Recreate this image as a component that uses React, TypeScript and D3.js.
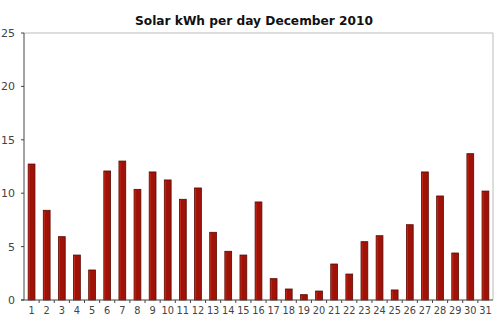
import React from "react";
import * as d3 from "d3";

const days: string[] = Array.from({ length: 31 }, (_, i) => String(i + 1));
const kwh: number[] = [
  12.73, 8.4, 5.93, 4.21, 2.81, 12.08, 13.01, 10.36, 11.99, 11.24, 9.43, 10.49,
  6.34, 4.56, 4.21, 9.18, 2.0, 1.03, 0.5, 0.84, 3.37, 2.43, 5.46, 6.02, 0.94,
  7.05, 11.99, 9.74, 4.4, 13.7, 10.2,
];
const yTicks: number[] = [0, 5, 10, 15, 20, 25];
const title = "Solar kWh per day December 2010";

const W = 500;
const H = 333;
const margin = { left: 24, top: 33, right: 7, bottom: 33 };

export default function App() {
  const x = d3
    .scaleBand<string>()
    .domain(days)
    .range([margin.left, W - margin.right])
    .paddingInner(0);
  const y = d3.scaleLinear().domain([0, 25]).range([H - margin.bottom, margin.top]);
  const bw = 6.8;
  const font = "Verdana, 'DejaVu Sans', sans-serif";
  const x0 = margin.left;
  const x1 = W - margin.right;
  const y0 = y(0);
  const yTop = y(25);
  return (
    <svg
      width={W}
      height={H}
      style={{ position: "absolute", left: 0, top: 0, background: "#fff" }}
      fontFamily={font}
    >
      <text x={254} y={25} textAnchor="middle" fontSize={12.2} fontWeight="bold" fill="#111">
        {title}
      </text>
      <line x1={x0} x2={x1} y1={yTop} y2={yTop} stroke="#bbb" strokeWidth={1} />
      <line x1={x1} x2={x1} y1={yTop} y2={y0} stroke="#bbb" strokeWidth={1} />
      {kwh.map((v, i) => {
        const cx = (x(days[i]) as number) + x.bandwidth() / 2;
        return (
          <g key={i}>
            <rect
              x={cx - bw / 2}
              y={y(v)}
              width={bw}
              height={y0 - y(v)}
              fill="#a01208"
              stroke="#5a0a04"
              strokeWidth={0.8}
            />
            <line x1={cx - bw / 2 + 1} x2={cx - bw / 2 + 1} y1={y(v) + 1} y2={y0} stroke="#c8301f" strokeWidth={0.8} />
          </g>
        );
      })}
      <line x1={x0} x2={x0} y1={yTop} y2={y0} stroke="#444" strokeWidth={1} />
      {yTicks.map((t) => (
        <g key={t}>
          <line x1={x0 - 3} x2={x0} y1={y(t)} y2={y(t)} stroke="#444" />
          <text x={x0 - 9} y={y(t) + 4} textAnchor="end" fontSize={11} fill="#444">
            {t}
          </text>
        </g>
      ))}
      <line x1={x0 - 3} x2={x1} y1={y0} y2={y0} stroke="#444" strokeWidth={1} />
      {days.map((d, i) => {
        const bx = (x(d) as number) + x.bandwidth();
        return (
          <g key={d}>
            {i < days.length - 1 && (
              <line x1={bx} x2={bx} y1={y0} y2={y0 + 3} stroke="#444" />
            )}
            <text
              x={(x(d) as number) + x.bandwidth() / 2}
              y={y0 + 14}
              textAnchor="middle"
              fontSize={9.8}
              fill="#444"
            >
              {d}
            </text>
          </g>
        );
      })}
    </svg>
  );
}
